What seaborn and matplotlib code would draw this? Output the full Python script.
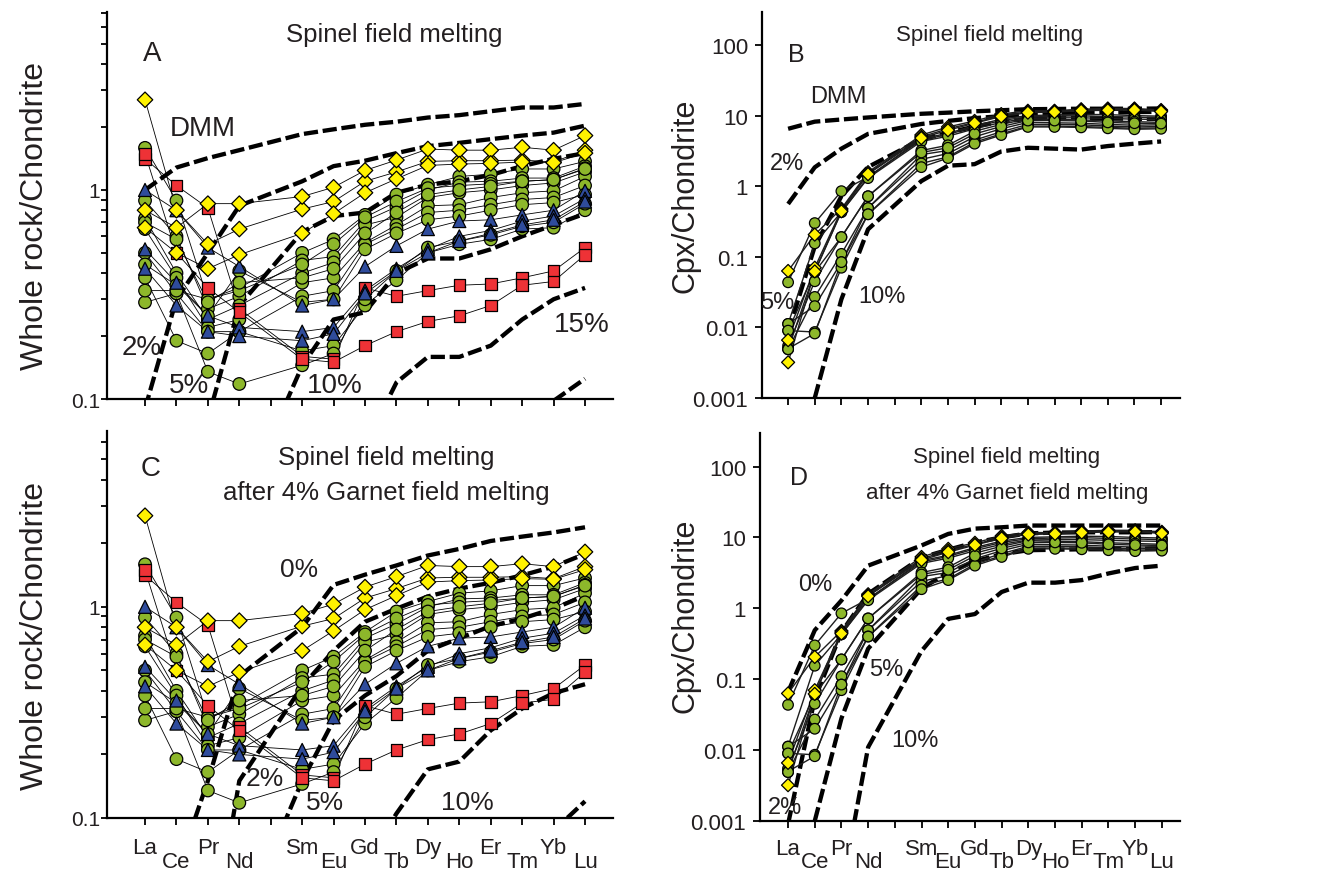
import matplotlib
matplotlib.use("Agg")
import matplotlib.pyplot as plt
import pandas as pd
import seaborn as sns
from matplotlib.ticker import FixedLocator, FixedFormatter, NullFormatter, NullLocator
from matplotlib.transforms import ScaledTranslation

N = None
# ---------------------------------------------------------------- categories
ELEMENTS = ["La", "Ce", "Pr", "Nd", "Sm", "Eu", "Gd", "Tb", "Dy", "Ho", "Er", "Tm", "Yb", "Lu"]
X_POS = [0, 1, 2, 3, 5, 6, 7, 8, 9, 10, 11, 12, 13, 14]          # Pm gap at 4
TICK_LABELS = ["La", "Ce", "Pr", "Nd", "", "Sm", "Eu", "Gd", "Tb", "Dy", "Ho", "Er", "Tm", "Yb", "Lu"]
LOW_LABELS = ["Ce", "Nd", "Eu", "Tb", "Ho", "Tm", "Lu"]

# ---------------------------------------------------------------- whole rock samples (panels A, C)
WR_YELLOW = [
    [2.7, 0.80, 0.55, 0.65, 0.81, 0.88, 1.10, 1.22, 1.37, 1.38, 1.38, 1.39, 1.36, 1.55],
    [0.80, 0.66, 0.86, 0.86, 0.93, 1.03, 1.24, 1.39, 1.57, 1.55, 1.55, 1.60, 1.55, 1.82],
    [0.66, 0.50, 0.42, 0.49, 0.62, 0.77, 0.97, 1.13, 1.31, 1.33, 1.34, 1.36, 1.35, 1.50],
]
WR_GREEN = [
    [1.59, 0.89, 0.30, 0.34, 0.50, 0.58, 0.76, 0.95, 1.06, 1.16, 1.19, 1.26, 1.26, 1.37],
    [0.89, 0.60, 0.27, 0.31, 0.46, 0.48, 0.71, 0.83, 1.00, 1.09, 1.10, 1.14, 1.14, 1.30],
    [0.73, 0.40, 0.24, 0.28, 0.40, 0.45, 0.68, 0.74, 0.92, 0.97, 1.00, 1.05, 1.08, 1.22],
    [0.65, 0.38, 0.22, 0.24, 0.36, 0.38, 0.56, 0.68, 0.84, 0.85, 0.92, 0.97, 0.99, 1.16],
    [0.50, 0.32, 0.21, 0.21, 0.31, 0.33, 0.55, 0.65, 0.78, 0.80, 0.85, 0.90, 0.92, 1.05],
    [0.44, 0.35, 0.25, 0.41, 0.29, 0.30, 0.52, 0.62, 0.72, 0.75, 0.80, 0.85, 0.87, 0.95],
    [0.38, 0.19, 0.165, 0.21, 0.17, 0.18, 0.28, 0.37, 0.50, 0.55, 0.58, 0.65, 0.66, 0.80],
    [0.29, 0.32, 0.135, 0.118, 0.145, 0.165, 0.30, 0.41, 0.53, 0.57, 0.61, 0.67, 0.70, 0.86],
    [0.33, 0.33, 0.30, 0.33, 0.44, 0.55, 0.74, 0.88, 1.02, 1.05, 1.07, 1.10, 1.12, 1.27],
    [0.70, 0.58, 0.29, 0.36, 0.38, 0.42, 0.62, 0.78, 0.95, 1.00, 1.04, 1.10, 1.12, 1.26],
]
WR_BLUE = [
    [1.00, 0.80, 0.53, 0.43, 0.28, 0.30, 0.43, 0.54, 0.65, 0.71, 0.72, 0.76, 0.80, 0.99],
    [0.52, 0.36, 0.25, 0.22, 0.21, 0.22, 0.33, 0.42, 0.52, 0.60, 0.64, 0.71, 0.75, 0.91],
    [0.42, 0.28, 0.21, 0.20, 0.19, 0.205, 0.32, 0.41, 0.50, 0.57, 0.62, 0.68, 0.72, 0.88],
]
WR_RED = [
    [1.41, 1.05, 0.82, 0.27, 0.16, 0.155, 0.34, 0.31, 0.33, 0.35, 0.355, 0.38, 0.41, 0.53],
    [1.49, 0.50, 0.34, 0.26, 0.155, 0.15, 0.18, 0.21, 0.235, 0.25, 0.28, 0.35, 0.365, 0.49],
]

# ---------------------------------------------------------------- clinopyroxene samples (panels B, D)
CPX_YELLOW = [
    [0.063, 0.206, 0.48, 1.58, 5.3, 6.9, 8.4, 10.5, 11.7, 11.7, 12.3, 12.6, 12.6, 12.0],
    [0.0066, 0.070, 0.46, 1.52, 5.0, 6.5, 8.0, 10.0, 11.3, 11.5, 12.0, 12.2, 12.3, 11.7],
    [0.0032, 0.062, 0.44, 1.48, 4.8, 6.2, 7.8, 9.7, 11.0, 11.2, 11.7, 11.9, 12.0, 11.4],
]
CPX_GREEN = [
    [0.0435, 0.30, 0.85, 1.35, 4.7, 5.6, 7.2, 8.9, 10.0, 10.2, 10.4, 10.3, 10.0, 9.8],
    [0.0112, 0.155, 0.43, 1.35, 4.5, 5.4, 6.9, 8.5, 9.6, 9.8, 9.9, 9.7, 9.5, 9.3],
    [0.0090, 0.061, 0.43, 1.30, 4.3, 5.1, 6.5, 8.0, 9.2, 9.3, 9.3, 9.1, 8.9, 8.8],
    [0.0055, 0.045, 0.19, 0.72, 3.2, 3.8, 6.0, 7.5, 9.0, 8.8, 8.7, 8.4, 8.2, 8.0],
    [0.0049, 0.027, 0.11, 0.49, 2.8, 3.2, 5.0, 6.5, 8.0, 7.9, 7.8, 7.5, 7.3, 7.4],
    [0.0112, 0.020, 0.084, 0.49, 2.4, 2.9, 4.5, 5.9, 7.5, 7.5, 7.4, 7.1, 6.9, 7.0],
    [0.0090, 0.0086, 0.070, 0.40, 2.1, 2.6, 4.2, 5.5, 7.1, 7.1, 7.0, 6.8, 6.6, 6.7],
    [0.0050, 0.0082, 0.084, 0.40, 1.86, 2.5, 4.0, 5.3, 6.9, 6.9, 6.8, 6.6, 6.4, 6.5],
    [0.0049, 0.061, 0.19, 0.72, 3.0, 3.5, 5.5, 7.0, 8.5, 8.5, 8.4, 8.0, 7.8, 7.7],
]

# ---------------------------------------------------------------- melting model curves
A_DMM = [1.00, 1.28, 1.42, 1.55, 1.85, 1.95, 2.05, 2.12, 2.22, 2.28, 2.38, 2.48, 2.48, 2.58]
A_2 = [0.09, 0.30, 0.50, 0.84, 1.10, 1.30, 1.38, 1.50, 1.62, 1.68, 1.75, 1.82, 1.88, 2.03]
A_5 = [N, N, 0.08, 0.28, 0.63, 0.75, 0.78, 0.97, 1.06, 1.10, 1.18, 1.30, 1.41, 1.50]
A_10 = [N, N, N, 0.03, 0.144, 0.24, 0.26, 0.40, 0.47, 0.47, 0.52, 0.60, 0.68, 0.77]
A_15 = [N, N, N, N, N, N, 0.06, 0.12, 0.159, 0.159, 0.18, 0.24, 0.30, 0.34]
A_20 = [N, N, N, N, N, N, N, N, N, N, N, N, 0.098, 0.125]

B_DMM = [6.5, 8.2, 8.8, 9.4, 10.6, 11.0, 11.5, 11.9, 12.3, 12.4, 12.5, 12.5, 12.5, 12.6]
B_2 = [0.56, 1.85, 3.4, 5.5, 7.6, 8.4, 9.2, 9.8, 10.4, 10.6, 10.8, 11.0, 11.2, 11.3]
B_5 = [0.0086, 0.14, 0.72, 1.87, 4.6, 5.7, 7.0, 8.2, 9.0, 9.2, 9.2, 9.1, 9.0, 9.0]
B_10 = [N, 0.001, 0.025, 0.245, 1.18, 1.95, 2.05, 3.1, 3.5, 3.4, 3.3, 3.7, 4.0, 4.3]

C_0 = [N, 0.055, 0.15, 0.47, 0.80, 1.27, 1.42, 1.57, 1.75, 1.88, 2.05, 2.15, 2.25, 2.38]
C_2 = [N, N, 0.02, 0.15, 0.42, 0.62, 0.85, 0.98, 1.12, 1.22, 1.30, 1.41, 1.55, 1.78]
C_5 = [N, N, N, 0.03, 0.15, 0.29, 0.38, 0.47, 0.62, 0.71, 0.81, 0.88, 0.98, 1.13]
C_10 = [N, N, N, N, N, N, 0.06, 0.105, 0.17, 0.185, 0.26, 0.33, 0.39, 0.43]
C_15 = [N, N, N, N, N, N, N, N, N, N, N, N, 0.087, 0.12]

D_0 = [0.066, 0.49, 1.29, 4.0, 7.7, 11.2, 13.3, 13.9, 14.7, 14.7, 14.7, 14.7, 14.7, 14.7]
D_2 = [0.0009, 0.053, 0.46, 1.6, 5.2, 6.7, 8.5, 10.0, 11.4, 11.7, 11.8, 11.8, 11.8, 11.9]
D_5 = [N, 0.001, 0.028, 0.27, 1.9, 3.2, 4.6, 5.8, 6.6, 6.7, 6.8, 6.8, 6.9, 7.0]
D_10 = [N, N, 0.0001, 0.011, 0.25, 0.71, 0.83, 1.7, 2.3, 2.3, 2.5, 3.1, 3.7, 4.0]

# ---------------------------------------------------------------- style
PALETTE = {"green": "#8DB72B", "red": "#EE3236", "blue": "#2F4C9C", "yellow": "#FFF200"}
MARKERS = {"green": "o", "red": "s", "blue": "^", "yellow": "D"}
TXT = "#231F20"

sns.set_theme(style="white")
plt.rcParams["font.family"] = ["Liberation Sans", "DejaVu Sans"]
plt.rcParams["text.color"] = TXT

fig = plt.figure(figsize=(13.2, 8.79), dpi=100)
W, H = 1320.0, 879.0


def rect(l, r, b, t):
    return [l / W, 1 - b / H, (r - l) / W, (b - t) / H]


axA = fig.add_axes(rect(107, 613, 400, 13))
axB = fig.add_axes(rect(762, 1180, 399, 13))
axC = fig.add_axes(rect(107, 613, 819, 432))
axD = fig.add_axes(rect(760, 1180, 822, 434))


def long_df(groups):
    rows = []
    sid = 0
    for gname, samples in groups:
        for s in samples:
            for x, v in zip(X_POS, s):
                if v is not None:
                    rows.append((sid, gname, x, v))
            sid += 1
    return pd.DataFrame(rows, columns=["sample", "group", "x", "v"])


def draw_panel(ax, models, groups, line_color, line_w, sizes):
    ax.set_yscale("log")
    for m in models:
        xs = [x for x, v in zip(X_POS, m) if v is not None]
        vs = [v for v in m if v is not None]
        sns.lineplot(x=xs, y=vs, ax=ax, color="black", lw=3.1, linestyle=(0, (3.3, 1.1)),
                     dash_capstyle="butt", zorder=2, sort=False, estimator=None)
    df = long_df(groups)
    sns.lineplot(data=df, x="x", y="v", units="sample", estimator=None, sort=False,
                 color=line_color, lw=line_w, ax=ax, zorder=3, legend=False)
    sns.scatterplot(data=df, x="x", y="v", hue="group", style="group", size="group",
                    palette=PALETTE, markers=MARKERS, sizes=sizes, edgecolor="black",
                    linewidth=0.9, ax=ax, zorder=4, legend=False)
    ax.set_xlabel("")
    ax.set_ylabel("")


WR_GROUPS = [("green", WR_GREEN), ("red", WR_RED), ("blue", WR_BLUE), ("yellow", WR_YELLOW)]
CPX_GROUPS = [("green", CPX_GREEN), ("yellow", CPX_YELLOW)]
WR_SIZES = {"green": 82, "red": 70, "blue": 88, "yellow": 62}
CPX_SIZES = {"green": 58, "red": 50, "blue": 50, "yellow": 44}

draw_panel(axA, [A_DMM, A_2, A_5, A_10, A_15, A_20], WR_GROUPS, "black", 0.6, WR_SIZES)
draw_panel(axC, [C_0, C_2, C_5, C_10, C_15], WR_GROUPS, "black", 0.6, WR_SIZES)
draw_panel(axB, [B_DMM, B_2, B_5, B_10], CPX_GROUPS, "#1E1E1E", 1.0, CPX_SIZES)
draw_panel(axD, [D_0, D_2, D_5, D_10], CPX_GROUPS, "#1E1E1E", 1.0, CPX_SIZES)

# ---------------------------------------------------------------- axes formatting
LIMS = {axA: ((-1.21, 14.89), (0.1, 7.1)), axC: ((-1.21, 14.89), (0.1, 6.8)),
        axB: ((-0.98, 14.71), (0.001, 293)), axD: ((-1.05, 14.68), (0.001, 297))}
for ax, (xl, yl) in LIMS.items():
    ax.set_xlim(*xl)
    ax.set_ylim(*yl)
    sns.despine(ax=ax)
    for sp in ("left", "bottom"):
        ax.spines[sp].set_linewidth(1.6)
        ax.spines[sp].set_color("black")
    ax.xaxis.set_major_locator(FixedLocator(list(range(15))))
    ax.xaxis.set_minor_locator(NullLocator())
    ax.tick_params(axis="x", which="both", bottom=True, direction="out", length=5,
                   width=1.3, color="black", labelsize=16, labelcolor=TXT)
    ax.grid(False)

for ax in (axA, axC):
    ax.yaxis.set_major_locator(FixedLocator([0.1, 1]))
    ax.yaxis.set_major_formatter(FixedFormatter(["0.1", "1"]))
    ax.yaxis.set_minor_locator(FixedLocator([0.2, 0.3, 0.4, 0.5, 0.6, 0.7, 0.8, 0.9, 2, 3, 4, 5, 6, 7]))
    ax.yaxis.set_minor_formatter(NullFormatter())
    ax.tick_params(axis="y", which="both", left=True, direction="out", length=4,
                   width=1.3, color="black", labelsize=15, labelcolor=TXT, pad=1)

for ax in (axB, axD):
    ax.yaxis.set_major_locator(FixedLocator([0.001, 0.01, 0.1, 1, 10, 100]))
    ax.yaxis.set_major_formatter(FixedFormatter(["0.001", "0.01", "0.1", "1", "10", "100"]))
    ax.yaxis.set_minor_locator(NullLocator())
    ax.tick_params(axis="y", which="both", left=True, direction="out", length=5,
                   width=1.3, color="black", labelsize=16, labelcolor=TXT, pad=5)

for ax in (axA, axB):
    ax.tick_params(axis="x", labelbottom=False)

for ax, pad, off in ((axC, 8.5, 0.14), (axD, 7.5, 0.13)):
    ax.tick_params(axis="x", pad=pad)
    ax.set_xticks(list(range(15)))
    ax.set_xticklabels(TICK_LABELS)
    for lab in ax.get_xticklabels():
        if lab.get_text() in LOW_LABELS:
            lab.set_transform(lab.get_transform() + ScaledTranslation(0, -off, fig.dpi_scale_trans))


# ---------------------------------------------------------------- texts
def ftxt(x, y, s, size, **kw):
    fig.text(x / W, 1 - y / H, s, fontsize=size, ha="center", va="center", color=TXT, **kw)


ftxt(35, 216, "Whole rock/Chondrite", 23, rotation=90)
ftxt(35, 636, "Whole rock/Chondrite", 23, rotation=90)
ftxt(686, 196, "Cpx/Chondrite", 22, rotation=90)
ftxt(686, 616, "Cpx/Chondrite", 22, rotation=90)

ftxt(394, 35, "Spinel field melting", 18.5)
ftxt(152, 54, "A", 20)
ftxt(203, 129, "DMM", 20)
ftxt(142, 348, "2%", 20)
ftxt(189, 386, "5%", 20)
ftxt(335, 386, "10%", 20)
ftxt(582, 325, "15%", 20)

ftxt(990, 36, "Spinel field melting", 16)
ftxt(796, 55, "B", 18)
ftxt(838, 97, "DMM", 17)
ftxt(787, 164, "2%", 17)
ftxt(777, 303, "5%", 17)
ftxt(882, 297, "10%", 17)

ftxt(386, 458, "Spinel field melting", 18.5)
ftxt(386, 493, "after 4% Garnet field melting", 18.5)
ftxt(151, 469, "C", 20)
ftxt(299, 570, "0%", 19)
ftxt(265, 779, "2%", 19)
ftxt(325, 803, "5%", 19)
ftxt(467, 803, "10%", 19)

ftxt(1007, 458, "Spinel field melting", 16)
ftxt(1007, 494, "after 4% Garnet field melting", 16)
ftxt(799, 478, "D", 18)
ftxt(815, 585, "0%", 17)
ftxt(886, 670, "5%", 17)
ftxt(915, 741, "10%", 17)
ftxt(785, 808, "2%", 17)

fig.savefig("out.png", dpi=100)
